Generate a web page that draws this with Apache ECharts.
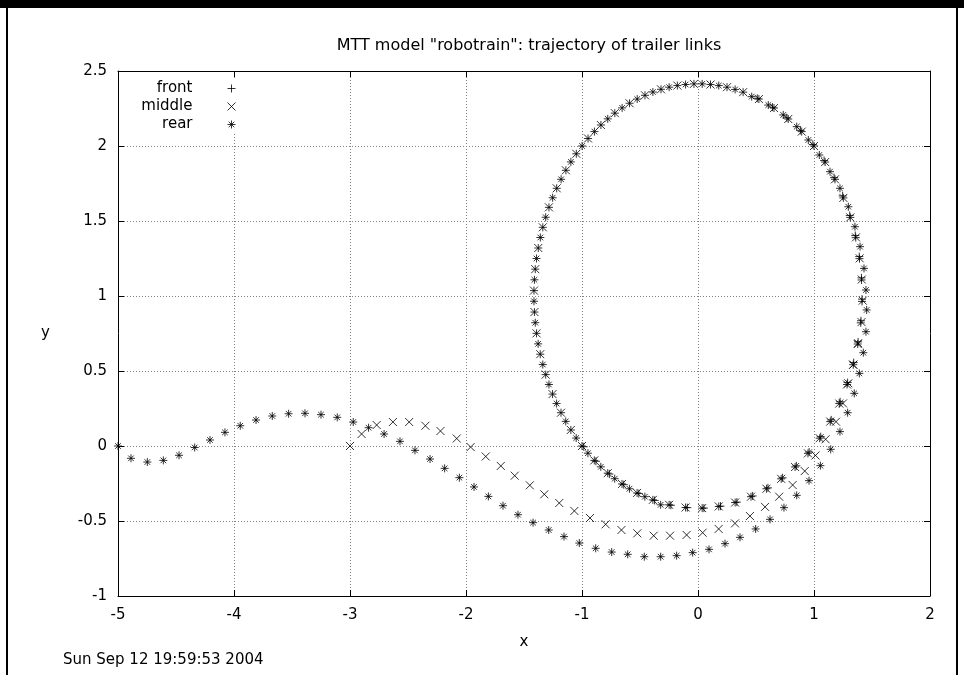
<!DOCTYPE html>
<html><head><meta charset="utf-8">
<script src="https://cdn.jsdelivr.net/npm/echarts/dist/echarts.min.js"></script>
<style>html,body{margin:0;padding:0;background:#fff}#c{width:964px;height:675px}</style>
</head><body><div id="c"></div>
<script>
const titleText = 'MTT model "robotrain": trajectory of trailer links';
const dateText = 'Sun Sep 12 19:59:53 2004';
const seriesNames = ['front', 'middle', 'rear'];
const xRange = [-5, 2, 1];
const yRange = [-1, 2.5, 0.5];

const front = [
[-1.000,0.000],[-0.894,-0.096],[-0.778,-0.181],[-0.655,-0.253],[-0.525,-0.313],[-0.389,-0.359],[-0.249,-0.392],[-0.107,-0.410],
[0.036,-0.414],[0.179,-0.403],[0.320,-0.377],[0.457,-0.338],[0.590,-0.285],[0.717,-0.219],[0.837,-0.140],[0.948,-0.049],
[1.049,0.052],[1.140,0.163],[1.218,0.283],[1.285,0.410],[1.338,0.542],[1.377,0.680],[1.403,0.821],[1.414,0.964],
[1.410,1.107],[1.392,1.249],[1.360,1.389],[1.313,1.524],[1.253,1.654],[1.181,1.778],[1.096,1.893],[1.000,2.000],
[0.894,2.096],[0.778,2.180],[0.655,2.253],[0.525,2.313],[0.389,2.359],[0.250,2.392],[0.108,2.410],[-0.035,2.414],
[-0.178,2.403],[-0.319,2.378],[-0.457,2.338],[-0.590,2.285],[-0.717,2.219],[-0.837,2.140],[-0.948,2.050],[-1.049,1.948],
[-1.139,1.838],[-1.218,1.718],[-1.285,1.591],[-1.338,1.458],[-1.377,1.320],[-1.403,1.179],[-1.414,1.036],[-1.410,0.893],
[-1.392,0.751],[-1.360,0.612],[-1.313,0.476],[-1.254,0.346],[-1.181,0.222],[-1.096,0.107],
[-0.985,-0.005],[-0.880,-0.102],[-0.764,-0.187],[-0.640,-0.258],[-0.510,-0.317],[-0.374,-0.363],[-0.234,-0.395],[-0.092,-0.411],
[0.051,-0.414],[0.194,-0.401],[0.335,-0.374],[0.471,-0.333],[0.603,-0.279],[0.729,-0.212],[0.848,-0.132],[0.958,-0.040],
[1.058,0.062],[1.148,0.174],[1.225,0.295],[1.290,0.423],[1.342,0.556],[1.380,0.694],[1.405,0.835],[1.414,0.979],
[1.409,1.121],[1.390,1.263],[1.356,1.403],[1.308,1.537],[1.247,1.667],[1.173,1.789],[1.087,1.903],[0.990,2.010],
[0.883,2.104],[0.766,2.188],[0.642,2.259],[0.511,2.318]
];

const middle = [
[-3.000,0.000],[-2.900,0.080],[-2.770,0.140],[-2.630,0.160],[-2.490,0.160],[-2.350,0.135],[-2.220,0.100],[-2.080,0.050],
[-1.960,-0.007],[-1.830,-0.070],[-1.700,-0.133],[-1.580,-0.198],[-1.450,-0.262],[-1.325,-0.322],[-1.196,-0.380],[-1.066,-0.433],
[-0.931,-0.480],[-0.796,-0.522],[-0.660,-0.560],[-0.523,-0.582],[-0.382,-0.598],[-0.241,-0.598],[-0.098,-0.593],[0.040,-0.578],
[0.178,-0.553],[0.319,-0.516],[0.448,-0.467],[0.578,-0.406],[0.700,-0.338],[0.816,-0.260],[0.920,-0.167],[1.013,-0.063],
[1.100,0.045],[1.190,0.162],[1.250,0.284],[1.296,0.418],
[1.338,0.542],[1.380,0.685],[1.410,0.826],[1.420,0.969],[1.412,1.110],[1.394,1.251],[1.362,1.391],[1.313,1.524],
[1.253,1.654],[1.181,1.778],[1.096,1.893],[1.000,2.000],[0.894,2.096],[0.778,2.180],[0.655,2.253],[0.525,2.313],
[0.389,2.359],[0.250,2.392],[0.108,2.410],[-0.035,2.414],[-0.178,2.403],[-0.319,2.378],[-0.457,2.338],[-0.590,2.285],
[-0.717,2.219],[-0.837,2.140],[-0.948,2.050],[-1.049,1.948],[-1.139,1.838],[-1.218,1.718],[-1.285,1.591],[-1.338,1.458],
[-1.377,1.320],[-1.403,1.179],[-1.414,1.036],[-1.410,0.893],[-1.392,0.751],[-1.360,0.612],[-1.313,0.476],[-1.254,0.346],
[-1.181,0.222],[-1.096,0.107],[-1.000,0.000],[-0.894,-0.096],[-0.778,-0.181],[-0.655,-0.253],[-0.525,-0.313],[-0.389,-0.359],
[-0.249,-0.392],[-0.107,-0.410],[0.036,-0.414],[0.179,-0.403],[0.320,-0.377],[0.457,-0.338],[0.590,-0.285],[0.717,-0.219],
[0.837,-0.140],[0.948,-0.049],[1.049,0.052],[1.140,0.163],[1.218,0.283],[1.285,0.410],[1.338,0.542],[1.377,0.680]
];

const rear = [
[-5.000,0.000],[-4.888,-0.082],[-4.747,-0.107],[-4.609,-0.096],[-4.474,-0.062],[-4.339,-0.010],[-4.207,0.040],[-4.078,0.091],
[-3.946,0.135],[-3.810,0.173],[-3.670,0.200],[-3.529,0.215],[-3.388,0.218],[-3.250,0.209],[-3.110,0.191],[-2.972,0.160],
[-2.840,0.122],[-2.706,0.080],[-2.569,0.031],[-2.440,-0.029],[-2.310,-0.087],[-2.184,-0.149],[-2.057,-0.211],[-1.931,-0.273],
[-1.807,-0.336],[-1.681,-0.398],[-1.552,-0.458],[-1.422,-0.511],[-1.287,-0.560],[-1.155,-0.604],[-1.023,-0.647],[-0.882,-0.682],
[-0.744,-0.707],[-0.606,-0.722],[-0.463,-0.738],[-0.322,-0.738],[-0.184,-0.731],[-0.046,-0.711],[0.095,-0.689],[0.233,-0.651],
[0.362,-0.609],[0.497,-0.553],[0.621,-0.489],[0.741,-0.411],[0.851,-0.329],[0.957,-0.231],[1.055,-0.131],[1.144,-0.022],
[1.224,0.096],[1.290,0.222],[1.347,0.351],
[1.391,0.484],[1.425,0.622],[1.448,0.762],[1.454,0.907],[1.448,1.040],[1.431,1.184],[1.397,1.329],[1.353,1.462],
[1.296,1.595],[1.224,1.718],[1.138,1.829],[1.046,1.940],[0.951,2.040],[0.851,2.129],[0.735,2.207],[0.606,2.273],[0.463,2.329],
[0.320,2.377],[0.179,2.403],[0.036,2.414],[-0.107,2.410],[-0.249,2.392],[-0.389,2.360],[-0.524,2.313],[-0.654,2.254],
[-0.778,2.181],[-0.893,2.096],[-0.999,2.000],[-1.096,1.894],[-1.180,1.778],[-1.253,1.655],[-1.313,1.525],[-1.359,1.390],
[-1.392,1.250],[-1.410,1.108],[-1.414,0.965],[-1.403,0.822],[-1.378,0.681],[-1.338,0.543],[-1.285,0.410],[-1.219,0.283],
[-1.140,0.164],[-1.050,0.053],[-0.949,-0.048],[-0.838,-0.139],[-0.718,-0.218],[-0.591,-0.285],[-0.458,-0.338],[-0.322,-0.392]
];

const seriesData = [front, middle, rear];
const FONT = '"DejaVu Sans", "Liberation Sans", Arial, sans-serif';
const FS = 15;
const symbols = [
  'path://M0,5L10,5M5,0L5,10',
  'path://M0,0L10,10M0,10L10,0',
  'path://M0,5L10,5M5,0L5,10M1.5,1.5L8.5,8.5M1.5,8.5L8.5,1.5'
];
const legendRows = [88, 106, 124];

const chart = echarts.init(document.getElementById('c'), null, {renderer: 'canvas'});

function xAxisDef(pos, main) {
  return {
    type: 'value', min: xRange[0], max: xRange[1], interval: xRange[2], position: pos,
    axisLine: {show: true, onZero: false, lineStyle: {color: '#000', width: 1}},
    axisTick: {show: true, inside: true, length: 6, lineStyle: {color: '#000', width: 1}},
    axisLabel: {show: main, margin: 12, color: '#000', fontSize: FS, fontFamily: FONT, showMinLabel: true, showMaxLabel: true, hideOverlap: false},
    splitLine: {show: main, lineStyle: {color: '#808080', width: 1, type: [1, 2]}},
    name: main ? 'x' : '', nameLocation: 'middle', nameGap: 39,
    nameTextStyle: {color: '#000', fontSize: FS, fontFamily: FONT}
  };
}
function yAxisDef(pos, main) {
  return {
    type: 'value', min: yRange[0], max: yRange[1], interval: yRange[2], position: pos,
    axisLine: {show: true, onZero: false, lineStyle: {color: '#000', width: 1}},
    axisTick: {show: true, inside: true, length: 6, lineStyle: {color: '#000', width: 1}},
    axisLabel: {show: main, margin: 11, color: '#000', fontSize: FS, fontFamily: FONT, showMinLabel: true, showMaxLabel: true, hideOverlap: false},
    splitLine: {show: main, lineStyle: {color: '#808080', width: 1, type: [1, 2]}},
    name: main ? 'y' : '', nameLocation: 'middle', nameGap: 68, nameRotate: 0,
    nameTextStyle: {color: '#000', fontSize: FS, fontFamily: FONT, padding: [5, 0, 0, 0]}
  };
}

const option = {
  animation: false,
  backgroundColor: '#fff',
  title: {
    text: titleText, left: 524, top: 33, textAlign: 'center',
    textStyle: {fontSize: 16, fontWeight: 'normal', color: '#000', fontFamily: FONT}
  },
  grid: {left: 118, right: 34, top: 71, bottom: 79, containLabel: false, outerBoundsMode: 'none'},
  xAxis: [xAxisDef('bottom', true), xAxisDef('top', false)],
  yAxis: [yAxisDef('left', true), yAxisDef('right', false)],
  legend: seriesNames.map((n, i) => ({
    data: [{name: n, icon: symbols[i]}],
    orient: 'horizontal', align: 'right',
    right: 728, top: legendRows[i] - 8,
    itemWidth: 68, itemHeight: 8, itemGap: 0, padding: [1, 0, 1, 0],
    backgroundColor: '#fff', selectedMode: false,
    textStyle: {fontSize: FS, color: '#000', fontFamily: FONT},
    itemStyle: {color: '#000', borderColor: '#000', borderWidth: 1}
  })),
  series: seriesNames.map((n, i) => ({
    name: n, type: 'scatter', xAxisIndex: 0, yAxisIndex: 0,
    data: seriesData[i], symbol: symbols[i], symbolSize: 8,
    itemStyle: {color: '#000', borderColor: '#000', borderWidth: 1},
    emphasis: {disabled: true}, silent: true, z: 3 + i
  })),
  graphic: [
    {type: 'rect', left: 0, top: 0, shape: {width: 964, height: 8}, style: {fill: '#000'}, silent: true},
    {type: 'rect', left: 6, top: 0, shape: {width: 2, height: 675}, style: {fill: '#000'}, silent: true},
    {type: 'rect', left: 956, top: 0, shape: {width: 2, height: 675}, style: {fill: '#000'}, silent: true},
    {type: 'text', left: 63, top: 653, style: {text: dateText, fill: '#000', font: FS + 'px ' + FONT}, silent: true}
  ]
};
chart.setOption(option);
</script>
</body></html>
